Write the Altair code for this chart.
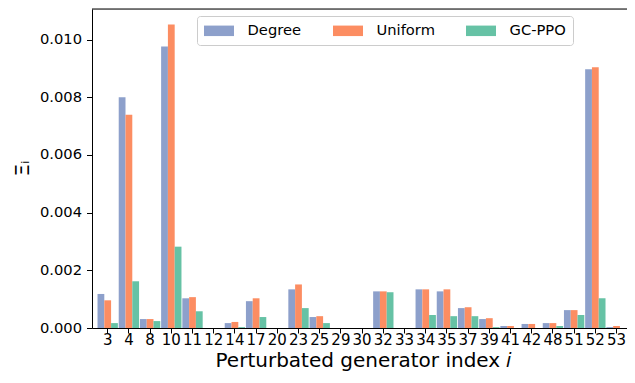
import altair as alt
import pandas as pd

categories = [3, 4, 8, 10, 11, 12, 14, 17, 20, 23, 25, 29, 30, 32, 33, 34, 35, 37, 39, 41, 42, 48, 51, 52, 53]
degree = [0.00118, 0.00800, 0.00031, 0.00976, 0.00103, 0.0, 0.00017, 0.00093, 0.0, 0.00134, 0.00038, 0.0, 0.0,
          0.00127, 0.0, 0.00134, 0.00127, 0.00069, 0.00031, 0.00007, 0.00014, 0.00017, 0.00062, 0.00897, 0.00003]
uniform = [0.00096, 0.00739, 0.00031, 0.01052, 0.00107, 0.0, 0.00021, 0.00103, 0.0, 0.00151, 0.00041, 0.0, 0.0,
           0.00127, 0.0, 0.00134, 0.00134, 0.00072, 0.00034, 0.00007, 0.00014, 0.00017, 0.00062, 0.00904, 0.00007]
gcppo = [0.00017, 0.00162, 0.00024, 0.00282, 0.00058, 0.0, 0.00003, 0.00038, 0.0, 0.00069, 0.00017, 0.0, 0.0,
         0.00124, 0.0, 0.00045, 0.00041, 0.00041, 0.00003, 0.0, 0.0, 0.00007, 0.00045, 0.00103, 0.0]
series_names = ["Degree", "Uniform", "GC-PPO"]
series_colors = ["#8da0cb", "#fc8d62", "#66c2a5"]
y_ticks = [0.0, 0.002, 0.004, 0.006, 0.008, 0.010]

rows = []
for name, vals in zip(series_names, [degree, uniform, gcppo]):
    for c, v in zip(categories, vals):
        rows.append({"gen": str(c), "method": name, "value": v})
df = pd.DataFrame(rows)
cat_order = [str(c) for c in categories]

W, H = 535, 319
FONT = "DejaVu Sans"

bars = alt.Chart(df).mark_bar().encode(
    x=alt.X("gen:N", sort=cat_order,
            scale=alt.Scale(paddingInner=0.04, paddingOuter=0.137, align=0.95),
            axis=alt.Axis(title="Perturbated generator index 𝑖", labelAngle=0,
                          labelFontSize=15, labelFont=FONT, labelColor="black",
                          labelOverlap=False, labelBaseline="alphabetic", labelPadding=11,
                          labelBound=False, labelFlush=False,
                          tickSize=5, tickColor="black", tickWidth=1,
                          domainColor="black", domainWidth=1,
                          titleFont=FONT, titleFontSize=20, titleFontWeight="normal",
                          titleColor="black", titleBaseline="alphabetic",
                          titleX=271, titleY=38.5, titleAnchor="middle", titleAlign="center")),
    xOffset=alt.XOffset("method:N", sort=series_names,
                        scale=alt.Scale(paddingInner=0, paddingOuter=0)),
    y=alt.Y("value:Q", scale=alt.Scale(domain=[0, 0.01106], nice=False, zero=True),
            axis=alt.Axis(title="Ξᵢ", values=y_ticks, format=".3f", grid=False,
                          labelFontSize=14.7, labelFont=FONT, labelColor="black",
                          labelPadding=5, tickSize=5.5, tickColor="black", tickWidth=1,
                          domainColor="black", domainWidth=1,
                          titleFont=FONT, titleFontSize=20, titleFontWeight="normal",
                          titleColor="black", titleAngle=270, titleBaseline="alphabetic",
                          titleAlign="center", titleX=-64, titleY=159)),
    color=alt.Color("method:N", sort=series_names,
                    scale=alt.Scale(domain=series_names, range=series_colors),
                    legend=alt.Legend(title=None, orient="none", legendX=105, legendY=7,
                                      direction="horizontal", columns=3, columnPadding=31,
                                      symbolType="M-2.86,-1H2.86V1H-2.86Z", symbolSize=110,
                                      symbolOffset=7.65,
                                      symbolStrokeWidth=0, symbolOpacity=1,
                                      labelOffset=21.2, labelFont=FONT, labelFontSize=14.7,
                                      labelFontWeight="normal",
                                      labelColor="black", padding=7,
                                      fillColor="rgba(255,255,255,0.8)", strokeColor="#cccccc",
                                      cornerRadius=3)),
)

spine_df = pd.DataFrame({"k": [0]})
top_spine = alt.Chart(spine_df).mark_rule(color="black", strokeWidth=1).encode(
    x=alt.value(0), x2=alt.value(W), y=alt.value(0)
)

chart = alt.layer(bars, top_spine).properties(
    width=W, height=H,
    autosize=alt.AutoSizeParams(type="none"),
    padding={"left": 84, "top": 1, "right": 0, "bottom": 43},
).configure_view(stroke=None).configure(background="white")

chart.save("out.html", embed_options={"renderer": "svg", "actions": False})
